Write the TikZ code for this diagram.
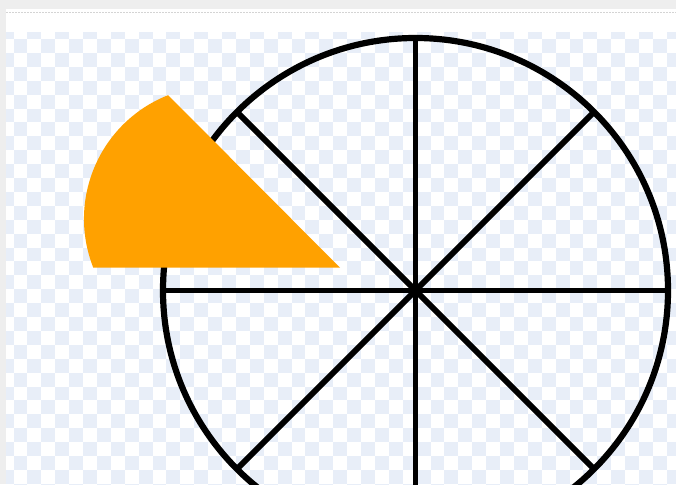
\documentclass[tikz,border=0pt]{standalone}
\usepackage{xcolor}
\usepackage{tikz}
\usetikzlibrary{
	calc
}
\definecolor{checkblue}{RGB}{232,238,248}
\definecolor{framegray}{RGB}{238,238,238}
\definecolor{dotgray}{RGB}{212,212,212}
\definecolor{pieorange}{RGB}{255,161,0}

\begin{document}
\begin{tikzpicture}[
				x=1pt, y=-1pt,
				frame/.style={
					fill=framegray, draw=none
				},
				panel/.style={
					fill=white, draw=none
				},
				checker/.style={
					fill=checkblue, draw=none
				},
				wheel/.style={
					draw=black, line width=6.2pt
				},
				spoke/.style={
					draw=black, line width=5.8pt
				},
				wedge/.style={
					fill=pieorange, draw=none
				}
				]
				\useasboundingbox (0,0) rectangle (676,484);
				
				% frame
				\fill[frame] (0,0) rectangle (676,484);
				\fill[panel] (6,9) rectangle (676,484);
				\coordinate (dotL) at (6,12.5);
				\coordinate (dotR) at (676,12.5);
				\draw[dotgray, line width=1pt, dash pattern=on 1.5pt off 1.5pt] (dotL) -- (dotR);
				
				% checkerboard
				\begin{scope}
					\clip (6,33) rectangle (676,484);
					\foreach \i in {0,...,49}{
						\foreach \j in {0,...,33}{
							\pgfmathtruncatemacro\k{mod(\i+\j,2)}
							\ifnum\k=0
								\fill[checker] (-0.4+13.9*\i, 25.1+13.9*\j) rectangle ++(13.9,13.9);
							\fi
						}
					}
				\end{scope}
				
				% wheel
				\coordinate (hub) at (415.5,290.5);
				\draw[wheel] (hub) circle (252.5);
				
				% spokes
				\foreach \a in {0,45,...,315}
					\draw[spoke] (hub) -- ++(\a:252.5);
				
				% wedge (cut out piece)
				\coordinate (tip) at (340,267.7);
				\coordinate (corner) at (93.3,267.7);
				\fill[wedge] (tip) -- (corner) arc[start angle=158.45, end angle=248.45, radius=133] -- cycle;
			\end{tikzpicture}
\end{document}
